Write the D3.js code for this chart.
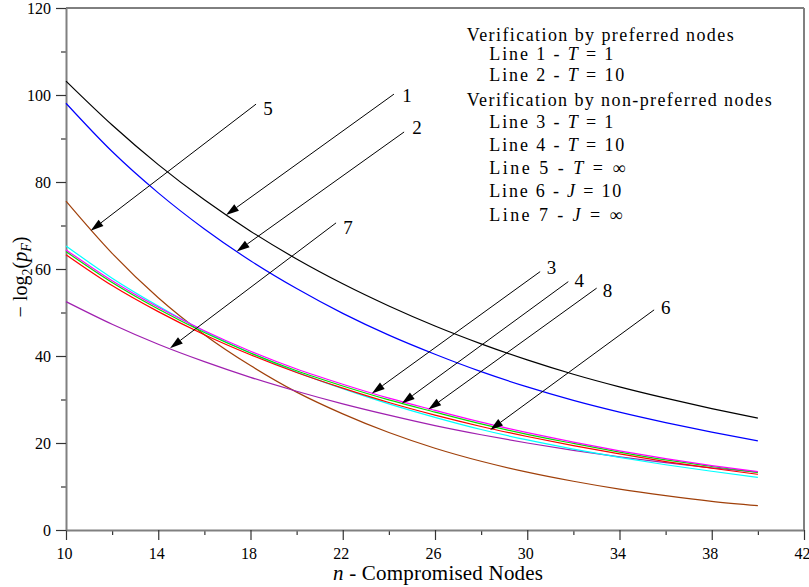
<!DOCTYPE html>
<html><head><meta charset="utf-8">
<script src="https://cdn.jsdelivr.net/npm/d3@7"></script>
<style>body{margin:0;background:#fff}</style>
</head><body>
<svg id="c" width="809" height="587"></svg>
<script>
// ---------- data ----------
const nValues = [10,12,14,16,18,20,22,24,26,28,30,32,34,36,38,40];
const line1 = [103.2,93.1,84.0,75.9,68.7,62.3,56.6,51.5,46.9,42.8,39.1,35.8,32.9,30.3,27.9,25.7];
const line2 = [98.1,87.0,77.5,69.2,61.9,55.5,49.8,44.8,40.4,36.4,32.9,29.8,27.1,24.7,22.5,20.5];
const line5 = [75.6,63.6,53.4,44.9,37.8,31.7,26.7,22.4,18.8,15.8,13.3,11.2,9.4,7.9,6.6,5.6];
const line7 = [52.5,47.3,42.7,38.7,35.1,31.9,29.0,26.4,24.0,21.9,20.0,18.3,16.8,15.5,14.3,13.3];
const lineCyan = [65.3,57.9,51.5,45.7,40.7,36.3,32.5,29.0,25.9,23.1,20.7,18.6,16.7,15.0,13.5,12.1];
const lineRed = [63.3,56.2,50.2,44.9,40.3,36.2,32.6,29.3,26.4,23.8,21.5,19.4,17.5,15.7,14.2,12.8];
const lineGreen = [64.0,56.9,50.8,45.4,40.7,36.6,33.1,29.9,27.1,24.4,22.0,19.9,17.9,16.1,14.6,13.2];
const lineMagenta = [64.4,57.3,51.2,45.8,41.1,37.0,33.5,30.3,27.5,24.8,22.4,20.2,18.2,16.4,14.8,13.4];

const xTicks = [10,14,18,22,26,30,34,38,42];
const xMinorTicks = [12,16,20,24,28,32,36,40];
const yTicks = [0,20,40,60,80,100,120];
const yMinorTicks = [10,30,50,70,90,110];

// arrow annotations (data units)
const arrowLabels = ["1","2","5","7","3","4","8","6"];
const arrowTipN  = [16.94,17.40,11.07,14.51,23.26,24.56,25.71,28.39];
const arrowTipV  = [72.4,64.0,68.8,41.8,31.4,29.1,27.7,23.0];
const arrowTailN = [24.22,24.66,18.24,21.71,30.56,31.78,33.01,35.50];
const arrowTailV = [100.2,91.5,97.9,70.6,59.4,57.1,55.6,50.6];
const labelN = [24.79,25.22,18.76,22.23,31.05,32.25,33.48,36.00];
const labelV = [98.4,91.0,95.4,68.0,58.9,55.9,53.6,49.7];

const legendText = ["Verification by preferred nodes","Line 1 - $T$ = 1","Line 2 - $T$ = 10",
  "Verification by non-preferred nodes","Line 3 - $T$ = 1","Line 4 - $T$ = 10",
  "Line 5 - $T$ = ∞","Line 6 - $J$ = 10","Line 7 - $J$ = ∞"];

// ---------- layout / style ----------
const FONT = '"Liberation Serif", serif';
const svg = d3.select("#c").attr("font-family",FONT);
const x = d3.scaleLinear().domain([10,42]).range([66,804]);
const y = d3.scaleLinear().domain([0,120]).range([530,8]);

const series = [
  {v:line1,c:"#000000"},
  {v:line2,c:"#0000ff"},
  {v:line5,c:"#a0400a"},
  {v:line7,c:"#a020b0"},
  {v:lineCyan,c:"#00ffff"},
  {v:lineRed,c:"#ff0000"},
  {v:lineGreen,c:"#00e000"},
  {v:lineMagenta,c:"#ff00ff"}
];

// frame
svg.append("line").attr("x1",x(10)).attr("x2",x(42)).attr("y1",y(120)).attr("y2",y(120))
  .attr("stroke","#000").attr("stroke-width",1);
svg.append("line").attr("x1",x(42)).attr("x2",x(42)).attr("y1",y(120)).attr("y2",y(0))
  .attr("stroke","#808080").attr("stroke-width",2);

// axes
function styleAxis(g){
  g.attr("font-family",FONT);
  g.select(".domain").attr("stroke","#808080").attr("stroke-width",2);
  g.selectAll(".tick line").attr("stroke","#333").attr("stroke-width",1.2);
}
const gxMinor = svg.append("g").attr("transform",`translate(0,${y(0)})`)
  .call(d3.axisBottom(x).tickValues(xMinorTicks).tickSize(5).tickSizeOuter(0).tickFormat(""));
gxMinor.select(".domain").remove();
gxMinor.selectAll(".tick line").attr("stroke","#333").attr("stroke-width",1.2);
const gyMinor = svg.append("g").attr("transform",`translate(${x(10)},0)`)
  .call(d3.axisLeft(y).tickValues(yMinorTicks).tickSize(5).tickSizeOuter(0).tickFormat(""));
gyMinor.select(".domain").remove();
gyMinor.selectAll(".tick line").attr("stroke","#333").attr("stroke-width",1.2);

const gx = svg.append("g").attr("transform",`translate(0,${y(0)})`)
  .call(d3.axisBottom(x).tickValues(xTicks).tickSize(10).tickSizeOuter(0).tickFormat(d3.format("d")));
styleAxis(gx);
gx.selectAll(".tick text").attr("y",29).attr("dy",null).attr("x",-2)
  .attr("font-family",FONT).attr("font-size",16).attr("fill","#000");

const gy = svg.append("g").attr("transform",`translate(${x(10)},0)`)
  .call(d3.axisLeft(y).tickValues(yTicks).tickSize(10).tickSizeOuter(0).tickFormat(d3.format("d")));
styleAxis(gy);
gy.selectAll(".tick text").attr("x",-15).attr("dy","0.36em")
  .attr("font-family",FONT).attr("font-size",16).attr("fill","#000");

// curves
const lineGen = d3.line().x((d,i)=>x(nValues[i])).y(d=>y(d)).curve(d3.curveMonotoneX);
svg.append("g").selectAll("path").data(series).join("path")
  .attr("d",d=>lineGen(d.v)).attr("fill","none").attr("stroke",d=>d.c).attr("stroke-width",1.2);

// arrows
const ag = svg.append("g");
arrowLabels.forEach((lab,i)=>{
  const tx=x(arrowTipN[i]), ty=y(arrowTipV[i]);
  const sx=x(arrowTailN[i]), sy=y(arrowTailV[i]);
  const dx=sx-tx, dy=sy-ty, len=Math.hypot(dx,dy);
  const ux=dx/len, uy=dy/len, L=13, w=4;
  const bx=tx+ux*L, by=ty+uy*L;
  ag.append("line").attr("x1",sx).attr("y1",sy).attr("x2",bx).attr("y2",by)
    .attr("stroke","#000").attr("stroke-width",1);
  ag.append("polygon").attr("points",[[tx,ty],[bx-uy*w,by+ux*w],[bx+uy*w,by-ux*w]].map(p=>p.join(",")).join(" "))
    .attr("fill","#000");
  ag.append("text").attr("x",x(labelN[i])).attr("y",y(labelV[i])).attr("text-anchor","middle")
    .attr("font-family",FONT).attr("font-size",19).text(lab);
});

// legend
const legendBaselines = [41,60,81,106,128,151,174,197,221];
const legendWidths = [267,124,135,305,124,135,136,132,133];
legendText.forEach((t,i)=>{
  const indent = t.startsWith("Line");
  const tx = svg.append("text").attr("x",indent?489.3:466.7).attr("y",legendBaselines[i])
    .attr("font-family",FONT).attr("font-size",18)
    .attr("textLength",legendWidths[i]).attr("lengthAdjust","spacing");
  t.split("$").forEach((part,k)=>{
    const ts = tx.append("tspan").text(part);
    if(k%2===1) ts.attr("font-style","italic");
  });
});

// axis titles
const xt = svg.append("text").attr("x",438).attr("y",580).attr("text-anchor","middle")
  .attr("font-family",FONT).attr("font-size",21).attr("textLength",210).attr("lengthAdjust","spacing");
xt.append("tspan").attr("font-style","italic").text("n");
xt.append("tspan").text(" - Compromised Nodes");

const yt = svg.append("text").attr("transform","translate(27,277) rotate(-90)")
  .attr("text-anchor","middle").attr("font-family",FONT).attr("font-size",20);
yt.append("tspan").text("− log");
yt.append("tspan").attr("dy",5).attr("font-size",14).text("2");
yt.append("tspan").attr("dy",-5).text("(");
yt.append("tspan").attr("font-style","italic").text("p");
yt.append("tspan").attr("dy",4).attr("font-size",14).attr("font-style","italic").text("F");
yt.append("tspan").attr("dy",-4).text(")");
</script>
</body></html>
